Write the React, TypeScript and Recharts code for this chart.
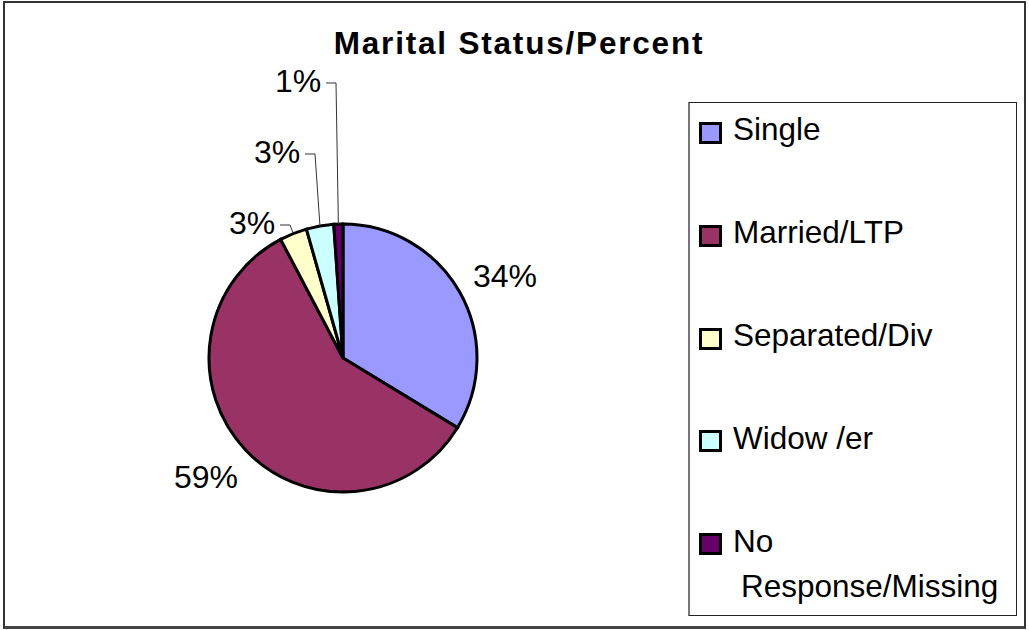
import { PieChart, Pie, Cell, Legend } from "recharts";

const categories = ["Single", "Married/LTP", "Separated/Div", "Widow /er", "No Response/Missing"];
const percents = [33.7, 58.6, 3.3, 3.3, 1.1];
const colors = ["#9999FF", "#993366", "#FFFFCC", "#CCFFFF", "#660066"];

const data = categories.map((name, i) => ({ name, value: percents[i] }));

// where Excel left the (hand dragged) data labels, relative to the pie centre
const LABEL_OFFSETS = [
  { dx: 162, dy: -71, leader: false },
  { dx: -137, dy: 130, leader: false },
  { dx: -91, dy: -124, leader: true },
  { dx: -66, dy: -195, leader: true },
  { dx: -45, dy: -266, leader: true },
];

const FONT = '"Liberation Sans", Arial, sans-serif';
const RAD = Math.PI / 180;

function renderLabel(props: any) {
  const { cx, cy, midAngle, outerRadius, index } = props;
  const o = LABEL_OFFSETS[index];
  const x = cx + o.dx;
  const y = cy + o.dy;
  let line = null;
  if (o.leader) {
    const ex = cx + outerRadius * Math.cos(-midAngle * RAD);
    const ey = cy + outerRadius * Math.sin(-midAngle * RAD);
    const sx = x + 28;
    const ly = y - 9;
    line = (
      <polyline
        points={`${sx},${ly} ${sx + 10},${ly} ${ex},${ey}`}
        fill="none"
        stroke="#333"
        strokeWidth={1}
      />
    );
  }
  return (
    <g key={`lbl-${index}`}>
      {line}
      <text x={x} y={y} textAnchor="middle" fontSize={32} fontFamily={FONT} fill="#000">
        {`${Math.round(percents[index])}%`}
      </text>
    </g>
  );
}

function LegendBox() {
  return (
    <div
      style={{
        position: "relative",
        width: 329,
        height: 514,
        boxSizing: "border-box",
        border: "1px solid #222",
        borderLeft: "2px solid #777",
        background: "#fff",
        fontFamily: FONT,
        fontSize: 31.5,
        color: "#000",
      }}
    >
      {categories.map((name, i) => {
        const parts = name.split(" ");
        // the last entry wraps after "No", with the second line nudged right like the original
        const label =
          name.length > 16 ? (
            <>
              {parts[0]}
              <br />
              <span style={{ paddingLeft: 8 }}>{parts.slice(1).join(" ")}</span>
            </>
          ) : (
            name
          );
        return (
          <div
            key={name}
            style={{
              position: "absolute",
              left: 9,
              top: 4.4 + i * 102.8,
              display: "flex",
              alignItems: "flex-start",
              width: 316,
            }}
          >
            <span
              style={{
                display: "inline-block",
                flex: "0 0 auto",
                width: 23,
                height: 22,
                marginTop: 14.6,
                boxSizing: "border-box",
                border: "3px solid #000",
                background: colors[i],
              }}
            />
            <span style={{ marginLeft: 11, lineHeight: "45px", whiteSpace: "nowrap" }}>{label}</span>
          </div>
        );
      })}
    </div>
  );
}

export default function App() {
  return (
    <div style={{ position: "absolute", left: 0, top: 0, width: 1029, height: 630, background: "#fff" }}>
      <div
        style={{
          position: "absolute",
          left: 3,
          top: 1,
          width: 1023,
          height: 628,
          boxSizing: "border-box",
          border: "2px solid #333",
          borderBottom: "3px solid #444",
        }}
      />
      <div
        style={{
          position: "absolute",
          left: 0,
          top: 28,
          width: 1038,
          textAlign: "center",
          fontFamily: FONT,
          fontWeight: "bold",
          fontSize: 31.5,
          lineHeight: "31px",
          letterSpacing: 1.8,
          color: "#000",
        }}
      >
        Marital Status/Percent
      </div>
      <div style={{ position: "absolute", left: 0, top: 0 }}>
        <PieChart width={1029} height={630} margin={{ top: 0, right: 0, bottom: 0, left: 0 }}>
          <Pie
            data={data}
            dataKey="value"
            nameKey="name"
            cx={343}
            cy={358}
            outerRadius={134}
            startAngle={90}
            endAngle={-270}
            stroke="#000"
            strokeWidth={3}
            label={renderLabel}
            labelLine={false}
            isAnimationActive={false}
          >
            {data.map((d, i) => (
              <Cell key={d.name} fill={colors[i]} stroke="#000" strokeWidth={3} />
            ))}
          </Pie>
          <Legend
            layout="vertical"
            align="right"
            verticalAlign="top"
            content={() => <LegendBox />}
            wrapperStyle={{ position: "absolute", left: 688, top: 102, width: 329, height: 514 }}
          />
        </PieChart>
      </div>
    </div>
  );
}
